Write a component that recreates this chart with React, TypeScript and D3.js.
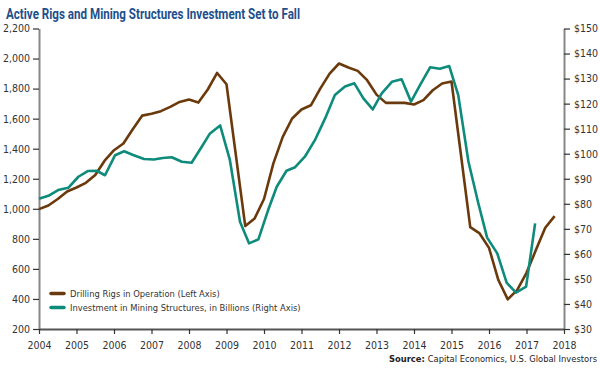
import { useEffect, useRef } from "react";
import * as d3 from "d3";

// drilling rigs in operation (left axis), quarterly
const rigDates = [
  2004.0, 2004.25, 2004.5, 2004.75, 2005.0, 2005.25, 2005.5, 2005.75,
  2006.0, 2006.25, 2006.5, 2006.75, 2007.0, 2007.25, 2007.5, 2007.75,
  2008.0, 2008.25, 2008.5, 2008.75, 2009.0, 2009.5, 2009.75, 2010.0,
  2010.25, 2010.5, 2010.75, 2011.0, 2011.25, 2011.5, 2011.75, 2012.0,
  2012.25, 2012.5, 2012.75, 2013.0, 2013.25, 2013.5, 2013.75, 2014.0,
  2014.25, 2014.5, 2014.75, 2015.0, 2015.5, 2015.75, 2016.0, 2016.25,
  2016.5, 2016.75, 2017.0, 2017.25, 2017.5, 2017.75,
];
const rigValues = [
  998, 1022, 1065, 1115, 1142, 1173, 1225, 1320,
  1390, 1435, 1530, 1620, 1632, 1650, 1678, 1711,
  1727, 1707, 1794, 1904, 1829, 885, 936, 1065,
  1302, 1479, 1601, 1661, 1689, 1800, 1900, 1967,
  1940, 1918, 1856, 1760, 1705, 1705, 1705, 1694,
  1723, 1789, 1834, 1847, 878, 836, 740, 526,
  397, 459, 574, 725, 874, 951,
];

// investment in mining structures, $ billions (right axis)
const invDates = [
  2004.0, 2004.25, 2004.51, 2004.78, 2005.05, 2005.31, 2005.54, 2005.76,
  2006.03, 2006.27, 2006.51, 2006.8, 2007.06, 2007.3, 2007.54, 2007.81,
  2008.07, 2008.34, 2008.56, 2008.83, 2009.09, 2009.36, 2009.6, 2009.85,
  2010.11, 2010.34, 2010.6, 2010.83, 2011.09, 2011.36, 2011.63, 2011.89,
  2012.16, 2012.41, 2012.65, 2012.9, 2013.14, 2013.41, 2013.67, 2013.92,
  2014.16, 2014.43, 2014.69, 2014.94, 2015.18, 2015.45, 2015.71, 2015.95,
  2016.22, 2016.47, 2016.72, 2016.99, 2017.23,
];
const invValues = [
  82, 83.2, 85.5, 86.4, 90.8, 93.1, 93.2, 91.4,
  99.4, 101, 99.5, 97.9, 97.7, 98.3, 98.6, 96.8,
  96.4, 102.8, 108.1, 111.3, 97.5, 72.8, 64.2, 65.8,
  77.5, 86.8, 93.2, 94.6, 98.8, 105.5, 114.1, 123.4,
  126.8, 128.1, 122.1, 117.7, 124.1, 128.7, 129.7, 120.8,
  127.4, 134.5, 133.9, 135, 123.4, 97, 80.5, 66.5,
  60.2, 48.5, 44.5, 46.9, 72.2,
];

const leftTicks = [200, 400, 600, 800, 1000, 1200, 1400, 1600, 1800, 2000, 2200];
const rightTicks = [30, 40, 50, 60, 70, 80, 90, 100, 110, 120, 130, 140, 150];
const yearTicks = d3.range(2004, 2019);

const seriesNames = [
  "Drilling Rigs in Operation (Left Axis)",
  "Investment in Mining Structures, in Billions (Right Axis)",
];

const brown = "#6b3a0c";
const teal = "#0e8b7b";
const font = "'Liberation Sans Narrow', 'DejaVu Sans Condensed', Roboto, sans-serif";

const App = () => {
  const svgRef = useRef(null);

  useEffect(() => {
    const svg = d3.select(svgRef.current);
    svg.selectAll("*").remove();

    const width = 600;
    const margin = { top: 28.5, right: 36, bottom: 40, left: 39 };
    const bottomY = 329;

    const x = d3
      .scaleLinear()
      .domain([2004, 2018])
      .range([margin.left, width - margin.right]);
    const yL = d3.scaleLinear().domain([200, 2200]).range([bottomY, margin.top]);
    const yR = d3.scaleLinear().domain([30, 150]).range([bottomY, margin.top]);

    // title
    svg
      .append("text")
      .attr("x", 6)
      .attr("y", 19)
      .attr("fill", "#1d4f8c")
      .attr("font-family", "Roboto, sans-serif")
      .attr("font-weight", "bold")
      .attr("font-size", 15.5)
      .attr("textLength", 294)
      .attr("lengthAdjust", "spacingAndGlyphs")
      .text("Active Rigs and Mining Structures Investment Set to Fall");

    const styleAxis = (g, domainColor) => {
      g.select(".domain").attr("stroke", domainColor).attr("stroke-width", 2);
      g.selectAll(".tick line").attr("stroke", "#333").attr("stroke-width", 1.2);
      g.selectAll(".tick text")
        .attr("fill", "#333")
        .attr("font-family", font)
        .attr("font-size", 10.5);
    };

    svg
      .append("g")
      .attr("transform", `translate(${margin.left},0)`)
      .call(
        d3
          .axisLeft(yL)
          .tickValues(leftTicks)
          .tickFormat(d3.format(","))
          .tickSize(6)
          .tickPadding(3)
          .tickSizeOuter(0)
      )
      .call((g) => styleAxis(g, "#888"));

    svg
      .append("g")
      .attr("transform", `translate(${width - margin.right},0)`)
      .call(
        d3
          .axisRight(yR)
          .tickValues(rightTicks)
          .tickFormat((d) => `$${d}`)
          .tickSize(6)
          .tickPadding(4)
          .tickSizeOuter(0)
      )
      .call((g) => styleAxis(g, "#888"));

    svg
      .append("g")
      .attr("transform", `translate(0,${bottomY})`)
      .call(
        d3
          .axisBottom(x)
          .tickValues(yearTicks)
          .tickFormat(d3.format("d"))
          .tickSize(5)
          .tickPadding(8)
          .tickSizeOuter(0)
      )
      .call((g) => styleAxis(g, "#555"));

    const rigLine = d3
      .line()
      .x((d) => x(d[0]))
      .y((d) => yL(d[1]));
    const invLine = d3
      .line()
      .x((d) => x(d[0]))
      .y((d) => yR(d[1]));

    svg
      .append("path")
      .datum(d3.zip(rigDates, rigValues))
      .attr("fill", "none")
      .attr("stroke", brown)
      .attr("stroke-width", 2.6)
      .attr("stroke-linejoin", "round")
      .attr("d", rigLine);

    svg
      .append("path")
      .datum(d3.zip(invDates, invValues))
      .attr("fill", "none")
      .attr("stroke", teal)
      .attr("stroke-width", 2.6)
      .attr("stroke-linejoin", "round")
      .attr("d", invLine);

    // legend
    const legend = svg
      .append("g")
      .selectAll("g")
      .data(seriesNames)
      .join("g")
      .attr("transform", (d, i) => `translate(51,${293.5 + i * 14})`);

    legend
      .append("line")
      .attr("x1", 0)
      .attr("x2", 13)
      .attr("stroke", (d, i) => (i === 0 ? brown : teal))
      .attr("stroke-width", 3.5)
      .attr("stroke-linecap", "round");

    legend
      .append("text")
      .attr("x", 19)
      .attr("dy", "0.35em")
      .attr("fill", "#333")
      .attr("font-family", font)
      .attr("font-size", 9.3)
      .text((d) => d);

    // source
    const source = svg
      .append("text")
      .attr("x", 597)
      .attr("y", 362)
      .attr("text-anchor", "end")
      .attr("fill", "#222")
      .attr("font-family", font)
      .attr("font-size", 9.3);
    source.append("tspan").attr("font-weight", "bold").text("Source: ");
    source.append("tspan").text("Capital Economics, U.S. Global Investors");
  }, []);

  return (
    <svg
      ref={svgRef}
      width={600}
      height={369}
      style={{ position: "absolute", left: 0, top: 0, background: "#fff" }}
    />
  );
};

export default App;
